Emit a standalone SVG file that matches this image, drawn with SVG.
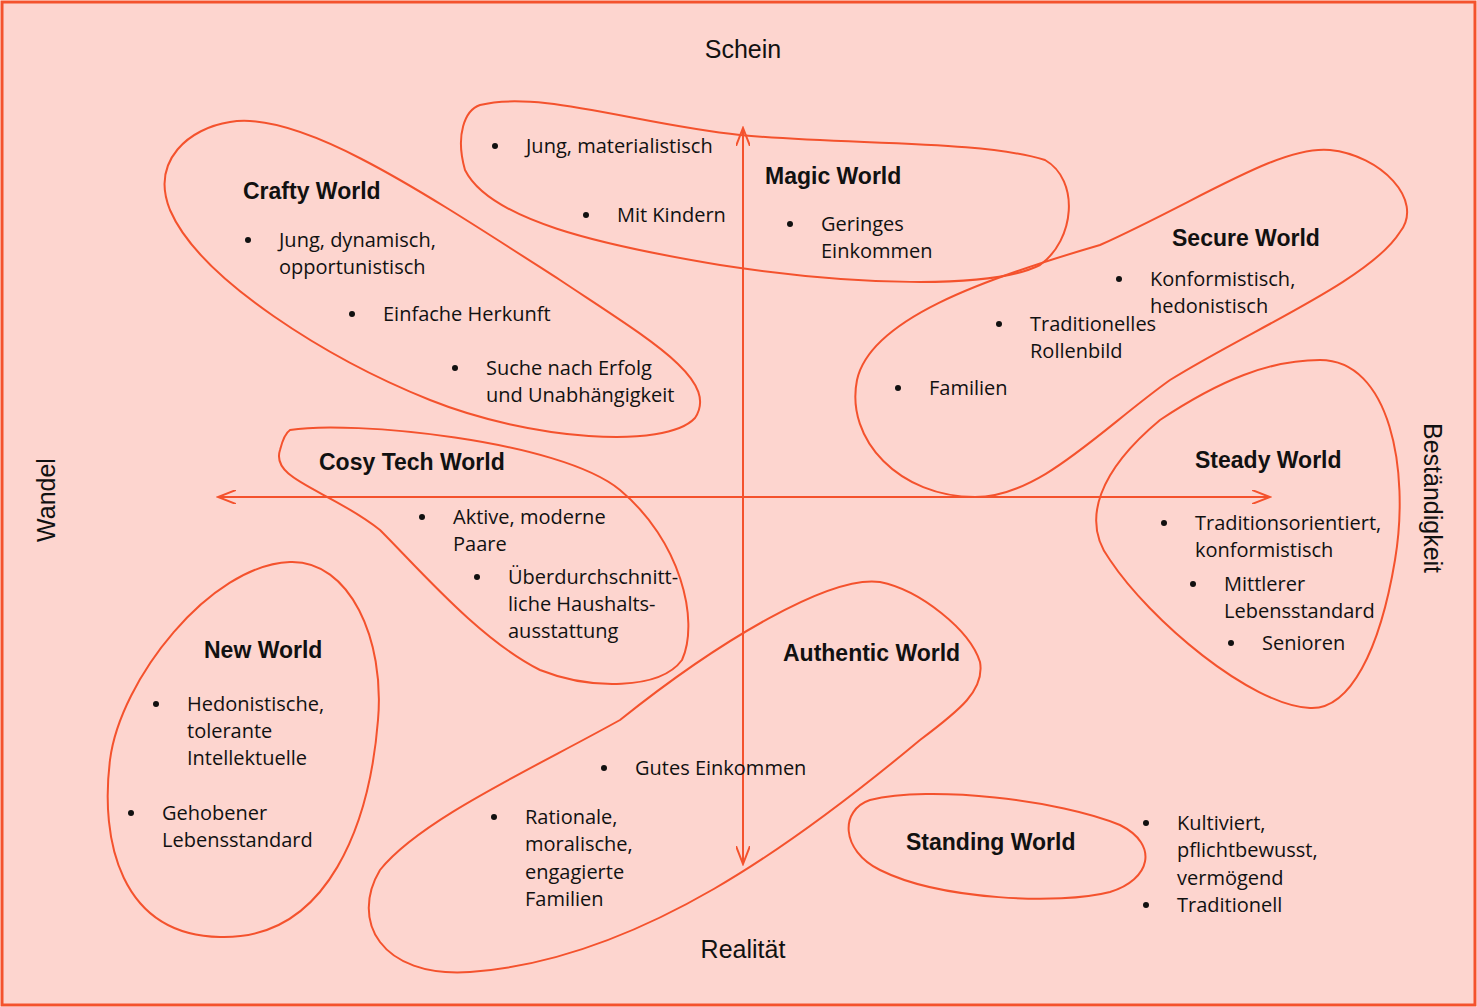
<svg xmlns="http://www.w3.org/2000/svg" width="1477" height="1007" viewBox="0 0 1477 1007">
<style>
.b{fill:none;stroke:#F4522D;stroke-width:2}
text{font-family:"Open Sans","Liberation Sans",sans-serif;font-size:20px;fill:#111}
.t{font-family:"Liberation Sans",Arial,sans-serif;font-weight:bold;font-size:23px}
.ax{font-family:"Liberation Sans",Arial,sans-serif;font-size:25px}
.d{fill:#111}
</style>
<defs>
<marker id="a" markerWidth="20" markerHeight="14" refX="18" refY="7" orient="auto-start-reverse" markerUnits="userSpaceOnUse"><path d="M0,0 L18,7 L0,14" fill="none" stroke="#F4522D" stroke-width="2"/></marker>
</defs>
<rect x="2" y="2" width="1473" height="1003" fill="#FDD5CF" stroke="#F4522D" stroke-width="3"/>
<g id="connectors">
<line x1="218" y1="497" x2="1270" y2="497" stroke="#F4522D" stroke-width="2" marker-start="url(#a)" marker-end="url(#a)"/>
<line x1="743" y1="128" x2="743" y2="864" stroke="#F4522D" stroke-width="2" marker-start="url(#a)" marker-end="url(#a)"/>
</g>
<g id="axes">
<text class="ax" x="743" y="58" text-anchor="middle">Schein</text>
<text class="ax" x="743" y="958" text-anchor="middle">Realität</text>
<text class="ax" transform="translate(55,500) rotate(-90)" text-anchor="middle">Wandel</text>
<text class="ax" transform="translate(1424,498) rotate(90)" text-anchor="middle">Beständigkeit</text>
</g>
<g id="crafty">
<path class="b" d="M230,122 C300,110 420,190 560,280 C650,340 720,380 695,418 C665,450 530,440 430,400 C330,360 200,280 170,210 C150,160 190,128 230,122 Z"/>
<text class="t" x="243" y="199">Crafty World</text>
<circle class="d" cx="248" cy="240" r="3"/><text x="279" y="247">Jung, dynamisch,</text><text x="279" y="274">opportunistisch</text>
<circle class="d" cx="352" cy="314" r="3"/><text x="383" y="321">Einfache Herkunft</text>
<circle class="d" cx="455" cy="368" r="3"/><text x="486" y="375">Suche nach Erfolg</text><text x="486" y="402">und Unabhängigkeit</text>
</g>
<g id="magic">
<path class="b" d="M480,105 C540,90 640,125 740,135 C850,145 980,140 1045,160 C1080,180 1075,240 1040,265 C990,290 850,285 720,265 C600,245 490,220 465,170 C455,135 465,110 480,105 Z"/>
<text class="t" x="765" y="184">Magic World</text>
<circle class="d" cx="495" cy="146" r="3"/><text x="526" y="153">Jung, materialistisch</text>
<circle class="d" cx="586" cy="215" r="3"/><text x="617" y="222">Mit Kindern</text>
<circle class="d" cx="790" cy="224" r="3"/><text x="821" y="231">Geringes</text><text x="821" y="258">Einkommen</text>
</g>
<g id="secure">
<path class="b" d="M1330,150 C1380,155 1425,200 1400,232 C1370,280 1250,330 1170,380 C1100,430 1040,497 975,497 C900,497 845,440 857,380 C870,320 980,280 1100,245 C1200,200 1280,145 1330,150 Z"/>
<text class="t" x="1172" y="246">Secure World</text>
<circle class="d" cx="1119" cy="279" r="3"/><text x="1150" y="286">Konformistisch,</text><text x="1150" y="313">hedonistisch</text>
<circle class="d" cx="999" cy="324" r="3"/><text x="1030" y="331">Traditionelles</text><text x="1030" y="358">Rollenbild</text>
<circle class="d" cx="898" cy="388" r="3"/><text x="929" y="395">Familien</text>
</g>
<g id="cosy">
<path class="b" d="M290,430 C350,420 560,440 620,490 C680,540 700,620 682,660 C660,690 590,690 540,670 C480,640 420,570 380,530 C330,490 270,480 280,450 C283,438 287,432 290,430 Z"/>
<text class="t" x="319" y="470">Cosy Tech World</text>
<circle class="d" cx="422" cy="517" r="3"/><text x="453" y="524">Aktive, moderne</text><text x="453" y="551">Paare</text>
<circle class="d" cx="477" cy="577" r="3"/><text x="508" y="584">Überdurchschnitt-</text><text x="508" y="611">liche Haushalts-</text><text x="508" y="638">ausstattung</text>
</g>
<g id="steady">
<path class="b" d="M1320,360 C1390,360 1410,470 1395,560 C1380,650 1350,710 1310,708 C1250,705 1150,620 1110,560 C1080,520 1100,470 1160,420 C1220,380 1270,360 1320,360 Z"/>
<text class="t" x="1195" y="468">Steady World</text>
<circle class="d" cx="1164" cy="523" r="3"/><text x="1195" y="530">Traditionsorientiert,</text><text x="1195" y="557">konformistisch</text>
<circle class="d" cx="1193" cy="584" r="3"/><text x="1224" y="591">Mittlerer</text><text x="1224" y="618">Lebensstandard</text>
<circle class="d" cx="1231" cy="643" r="3"/><text x="1262" y="650">Senioren</text>
</g>
<g id="new">
<path class="b" d="M290,562 C350,560 385,640 378,720 C370,820 330,940 220,937 C120,935 100,840 110,760 C120,680 210,565 290,562 Z"/>
<text class="t" x="204" y="658">New World</text>
<circle class="d" cx="156" cy="704" r="3"/><text x="187" y="711">Hedonistische,</text><text x="187" y="738">tolerante</text><text x="187" y="765">Intellektuelle</text>
<circle class="d" cx="131" cy="813" r="3"/><text x="162" y="820">Gehobener</text><text x="162" y="847">Lebensstandard</text>
</g>
<g id="authentic">
<path class="b" d="M880,582 C920,590 970,630 980,662 C985,690 960,710 920,740 C800,840 640,960 470,972 C380,978 350,920 380,870 C420,820 530,770 620,720 C720,640 830,575 880,582 Z"/>
<text class="t" x="783" y="661">Authentic World</text>
<circle class="d" cx="604" cy="768" r="3"/><text x="635" y="775">Gutes Einkommen</text>
<circle class="d" cx="494" cy="817" r="3"/><text x="525" y="824">Rationale,</text><text x="525" y="851">moralische,</text><text x="525" y="879">engagierte</text><text x="525" y="906">Familien</text>
</g>
<g id="standing">
<path class="b" d="M870,800 C930,785 1060,800 1120,825 C1160,845 1150,880 1110,892 C1060,905 940,900 880,870 C840,850 840,810 870,800 Z"/>
<text class="t" x="906" y="850">Standing World</text>
<circle class="d" cx="1146" cy="823" r="3"/><text x="1177" y="830">Kultiviert,</text><text x="1177" y="857">pflichtbewusst,</text><text x="1177" y="885">vermögend</text>
<circle class="d" cx="1146" cy="905" r="3"/><text x="1177" y="912">Traditionell</text>
</g>
</svg>
